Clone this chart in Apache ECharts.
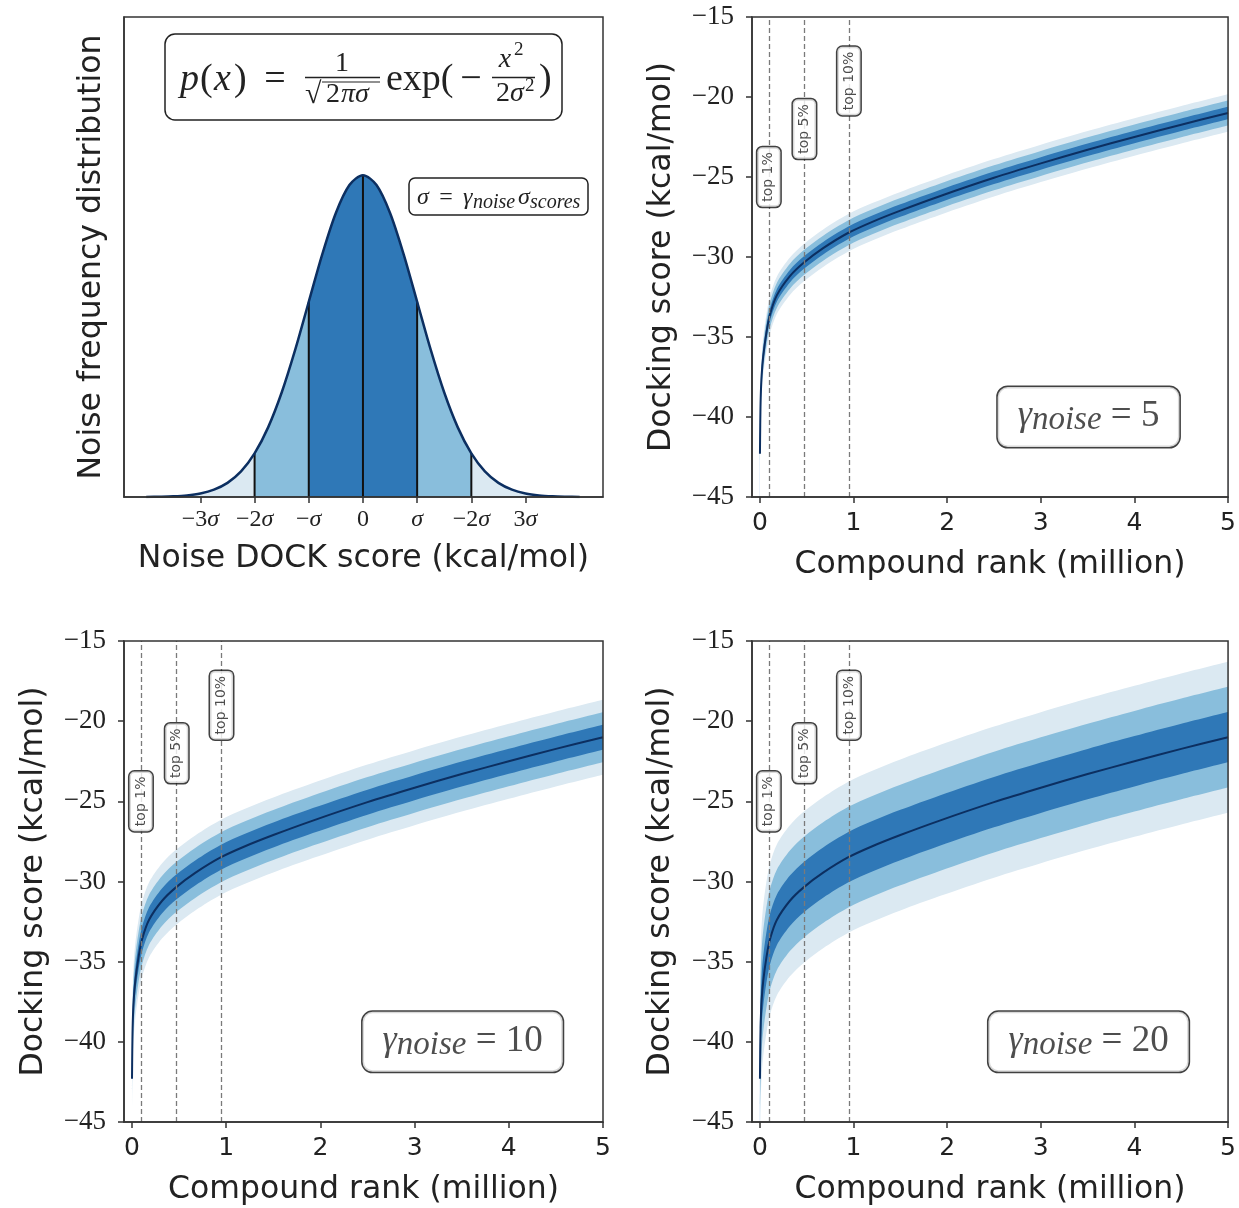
<!DOCTYPE html>
<html>
<head>
<meta charset="utf-8">
<script src="https://cdn.jsdelivr.net/npm/echarts/dist/echarts.min.js"></script>
<style>html,body{margin:0;padding:0;background:#fff}#c{width:1239px;height:1208px}</style>
</head>
<body>
<div id="c"></div>
<script>
// ---------------- data ----------------
const GAUSS_X = [-4,-3.75,-3.5,-3.25,-3,-2.75,-2.5,-2.25,-2,-1.75,-1.5,-1.25,-1,-0.75,-0.5,-0.25,0,0.25,0.5,0.75,1,1.25,1.5,1.75,2,2.25,2.5,2.75,3,3.25,3.5,3.75,4];
const GAUSS_PDF = [0.0001,0.0004,0.0009,0.0020,0.0044,0.0091,0.0175,0.0317,0.0540,0.0863,0.1295,0.1826,0.2420,0.3011,0.3521,0.3867,0.3989,0.3867,0.3521,0.3011,0.2420,0.1826,0.1295,0.0863,0.0540,0.0317,0.0175,0.0091,0.0044,0.0020,0.0009,0.0004,0.0001];
const GAUSS_TICKS = [-3,-2,-1,0,1,2,3];
const GAUSS_TICK_LABELS = ['−3σ','−2σ','−σ','0','σ','−2σ','3σ'];
const GAUSS_BANDS = [[-4,-2],[-2,-1],[-1,1],[1,2],[2,4]];
const GAUSS_BAND_LEVEL = [2,1,0,1,2];
const GAUSS_DIVIDERS = [-2,-1,0,1,2];

const RANK = [0,0.003,0.008,0.018,0.035,0.07,0.107,0.18,0.32,0.47,0.675,0.94,1.2,1.5,1.92,2.5,3,3.5,4,4.5,5];
const SCORE = [-42.3,-40.5,-38.8,-37.4,-36.2,-34.7,-33.6,-32.4,-31.2,-30.35,-29.45,-28.5,-27.8,-27.1,-26.2,-25.05,-24.15,-23.3,-22.5,-21.73,-21.0];
const RANK_TICKS = [0,1,2,3,4,5];
const GAMMA = [5,10,20];
const NOISE_SIGMA = [0.39,0.78,1.57];
const CUTOFF_RANK = [0.095,0.475,0.95];
const CUTOFF_LABEL = ['top 1%','top 5%','top 10%'];
const CUTOFF_LABEL_SCORE = [-25,-22,-19];

// ---------------- style ----------------
const SERIF = '"Liberation Serif","DejaVu Serif",serif';
const SANS = '"DejaVu Sans",sans-serif';
const INK = '#222';
const AXIS = '#333';
const BAND_COLORS = ['#2f78b7','#89bedc','#dbe9f2'];
const LINE_COLOR = '#0c2f61';
const SMOOTH = 0.3;
const CLEAR = 'rgba(0,0,0,0)';

const chart = echarts.init(document.getElementById('c'), null, {renderer:'canvas'});

const grids = [
  {left:124, top:17, width:479, height:480},
  {left:752, top:17, width:478, height:480},
  {left:124, top:641, width:479, height:481},
  {left:752, top:641, width:478, height:481}
].map(g => Object.assign(g, {show:true, borderColor:AXIS, borderWidth:1.5, backgroundColor:'transparent', z:10}));

const axisLine = {show:true, onZero:false, lineStyle:{color:AXIS, width:1.5}};
const nameStyle = {fontFamily:SANS, fontSize:31.5, color:INK};

function richSigma(str){
  let out='';
  for (const ch of str) out += (ch==='σ') ? '{s|σ}' : '{n|'+ch+'}';
  return out;
}

const xAxes = [{
  gridIndex:0, type:'value', min:-4.41, max:4.43, z:10,
  axisLine, splitLine:{show:false},
  axisTick:{show:true, customValues:GAUSS_TICKS, length:6, lineStyle:{color:AXIS, width:1.5}},
  axisLabel:{show:true, customValues:GAUSS_TICKS, margin:11,
    formatter:v => richSigma(GAUSS_TICK_LABELS[GAUSS_TICKS.indexOf(v)]),
    rich:{n:{fontFamily:SERIF, fontSize:24, color:INK}, s:{fontFamily:SERIF, fontStyle:'italic', fontSize:24, color:INK}}},
  name:'Noise DOCK score (kcal/mol)', nameLocation:'middle', nameGap:46, nameTextStyle:nameStyle
}];
const yAxes = [{
  gridIndex:0, type:'value', min:0, max:0.595, z:10,
  axisLine, splitLine:{show:false}, axisTick:{show:false}, axisLabel:{show:false},
  name:'Noise frequency distribution', nameLocation:'middle', nameGap:16, nameTextStyle:nameStyle
}];
const yGaps = [74, 74, 75];
for (let i=1;i<=3;i++){
  xAxes.push({
    gridIndex:i, type:'value', min:-0.085, max:5, z:10,
    axisLine, splitLine:{show:false},
    axisTick:{show:true, customValues:RANK_TICKS, length:6, lineStyle:{color:AXIS, width:1.5}},
    axisLabel:{show:true, customValues:RANK_TICKS, margin:14, fontFamily:SANS, fontSize:25, color:INK},
    name:'Compound rank (million)', nameLocation:'middle', nameGap:52, nameTextStyle:nameStyle
  });
  yAxes.push({
    gridIndex:i, type:'value', min:-45, max:-15, interval:5, z:10,
    axisLine, splitLine:{show:false},
    axisTick:{show:true, length:6, lineStyle:{color:AXIS, width:1.5}},
    axisLabel:{show:true, margin:18, fontFamily:SERIF, fontSize:27, color:INK, formatter:v => String(v).replace('-', '−')},
    name:'Docking score (kcal/mol)', nameLocation:'middle', nameGap:yGaps[i-1], nameTextStyle:nameStyle
  });
}

const series = [];
// --- Gaussian panel ---
const gaussPts = GAUSS_X.map((x,j)=>[x, GAUSS_PDF[j]]);
GAUSS_BANDS.forEach(([a,b],k)=>{
  series.push({type:'line', xAxisIndex:0, yAxisIndex:0, silent:true, symbol:'none', smooth:SMOOTH,
    data:gaussPts.filter(d=>d[0]>=a && d[0]<=b),
    lineStyle:{width:0, opacity:0},
    areaStyle:{color:BAND_COLORS[GAUSS_BAND_LEVEL[k]], opacity:1}, z:2});
});
series.push({type:'custom', xAxisIndex:0, yAxisIndex:0, silent:true, z:3,
  data:GAUSS_DIVIDERS.map(x=>[x, GAUSS_PDF[GAUSS_X.indexOf(x)]]),
  renderItem:(params, api)=>{
    const p0 = api.coord([api.value(0), 0]);
    const p1 = api.coord([api.value(0), api.value(1)]);
    return {type:'line', shape:{x1:p0[0], y1:p0[1], x2:p1[0], y2:p1[1]}, style:{stroke:'#111', lineWidth:2}};
  }});
series.push({type:'line', xAxisIndex:0, yAxisIndex:0, silent:true, symbol:'none', smooth:SMOOTH,
  data:gaussPts, lineStyle:{color:LINE_COLOR, width:2.5}, z:4});

// --- rank/score panels: bands painted top-down, each filled to the axis minimum ---
const BAND_LAYERS = [[3,2],[2,1],[1,0],[-1,1],[-2,2],[-3,-1]]; // [offset in sigma, colour index (-1 = white)]
GAMMA.forEach((g,i)=>{
  const p = i+1, s = NOISE_SIGMA[i];
  BAND_LAYERS.forEach(([k,ci])=>{
    series.push({type:'line', xAxisIndex:p, yAxisIndex:p, silent:true, symbol:'none', smooth:SMOOTH,
      data:RANK.map((x,j)=>[x, SCORE[j]+k*s]), lineStyle:{width:0, opacity:0},
      areaStyle:{color: ci<0 ? '#fff' : BAND_COLORS[ci], opacity:1, origin:'start'}, z:2});
  });
  series.push({type:'line', xAxisIndex:p, yAxisIndex:p, silent:true, symbol:'none', smooth:SMOOTH,
    data:RANK.map((x,j)=>[x, SCORE[j]]), lineStyle:{color:LINE_COLOR, width:2}, z:4,
    markLine:{silent:true, symbol:['none','none'], label:{show:false},
      lineStyle:{type:[5,3], color:'#7a7a7a', width:1.3},
      data:CUTOFF_RANK.map(x=>({xAxis:x}))}});
  series.push({type:'scatter', xAxisIndex:p, yAxisIndex:p, silent:true, symbolSize:2, itemStyle:{color:CLEAR}, z:6,
    data:CUTOFF_RANK.map((x,k)=>[x, CUTOFF_LABEL_SCORE[k]]),
    label:{show:true, position:'inside', rotate:90, formatter:pp=>CUTOFF_LABEL[pp.dataIndex],
      fontFamily:SANS, fontSize:14, color:'#222', backgroundColor:'#fff', borderColor:'#111', borderWidth:1.5,
      borderRadius:5, padding:[5,5,4,5]},
    labelLayout:{hideOverlap:false}});
  series.push({type:'scatter', xAxisIndex:p, yAxisIndex:p, silent:true, symbolSize:2, itemStyle:{color:CLEAR}, z:6,
    data:[[3.51, -40]],
    label:{show:true, position:'inside', formatter:'{g|γ}{s|noise}{e| = '+g+'}',
      backgroundColor:'#fff', borderColor:'#111', borderWidth:1.5, borderRadius:10, padding:[8,20,10,20],
      rich:{
        g:{fontFamily:SERIF, fontStyle:'italic', fontSize:36, color:INK, lineHeight:42},
        s:{fontFamily:SERIF, fontStyle:'italic', fontSize:33, color:INK, lineHeight:32, verticalAlign:'bottom'},
        e:{fontFamily:SERIF, fontSize:37, color:INK, lineHeight:42}
      }}});
});

// --- formula annotations (Gaussian panel) ---
function t(text, x, y, size, italic, align){
  return {type:'text', x, y, z:100, silent:true,
    style:{text, font:(italic?'italic ':'')+size+'px '+SERIF, fill:INK, align:align||'left', verticalAlign:'middle'}};
}
function ln(x1,y1,x2,y2,w){
  return {type:'line', z:100, silent:true, shape:{x1,y1,x2,y2}, style:{stroke:INK, lineWidth:w||1.4}};
}
const graphic = [
  {type:'rect', z:99, silent:true, shape:{x:165, y:34, width:397, height:86, r:10}, style:{fill:'#fff', stroke:INK, lineWidth:1.5}},
  t('p',180,80,38,true), t('(',200,80,38,false), t('x',214,80,38,true), t(')',234,80,38,false),
  t('=',275,80,38,false,'center'),
  t('1',342,64,28,false,'center'),
  ln(305,77.5,380,77.5),
  t('√',305,95,30,false), ln(322,82,380,82,1.2),
  t('2',326,95,28,false), t('πσ',341,95,28,true),
  t('exp(',386,80,38,false), t('−',471,80,38,false,'center'),
  t('x',505,60,28,true,'center'), t('2',514,50,19,false),
  ln(492,77.5,535,77.5),
  t('2',496,94,28,false), t('σ',510,94,28,true), t('2',525,86,19,false),
  t(')',539,80,38,false),
  {type:'rect', z:99, silent:true, shape:{x:409, y:178, width:179, height:37, r:6}, style:{fill:'#fff', stroke:INK, lineWidth:1.5}},
  t('σ',417,198,24,true), t('=',446,198,24,false,'center'), t('γ',463,198,24,true),
  t('noise',473,203,20,true), t('σ',518,198,24,true), t('scores',530,203,20,true)
];

chart.setOption({
  animation:false,
  backgroundColor:'#fff',
  grid:grids, xAxis:xAxes, yAxis:yAxes, series, graphic
});
</script>
</body>
</html>
